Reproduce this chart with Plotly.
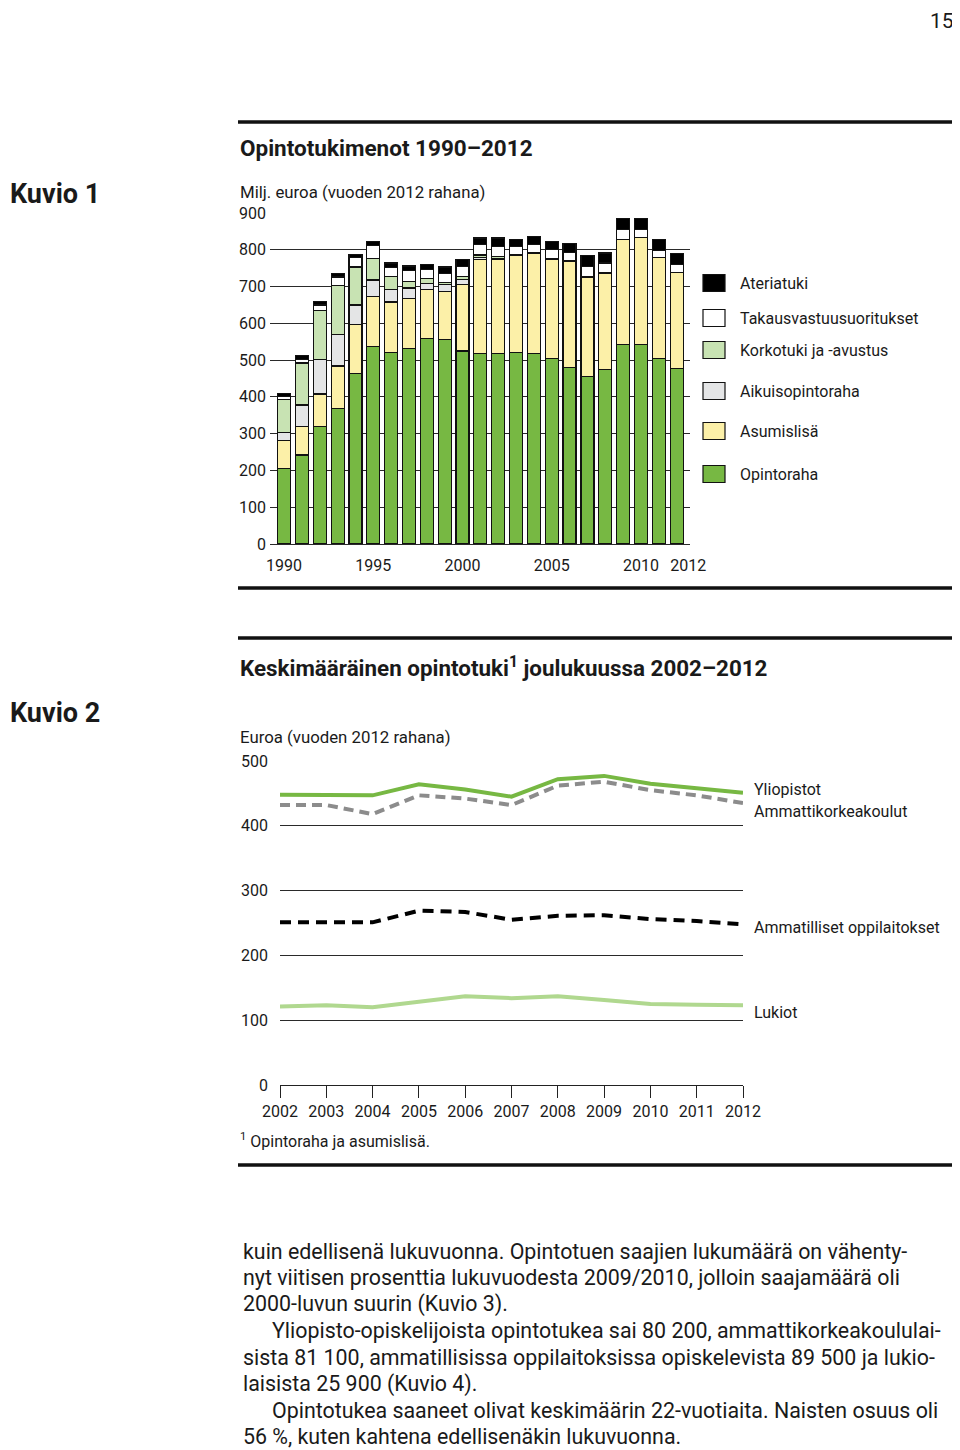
import plotly.graph_objects as go

# --- Kuvio 1: Opintotukimenot 1990-2012 (milj. euroa, vuoden 2012 rahana)
years = list(range(1990, 2013))
opintoraha = [206, 242, 319, 369, 463, 537, 521, 532, 558, 555, 525, 517,
              517, 520, 518, 505, 481, 455, 475, 542, 542, 504, 478]
asumislisa = [75, 77, 89, 115, 133, 136, 137, 136, 133, 132, 181, 256,
              256, 265, 272, 270, 287, 271, 262, 287, 292, 275, 261]
aikuisopintoraha = [23, 59, 93, 85, 54, 45, 33, 28, 18, 18, 13, 7,
                    4, 2, 1, 1, 1, 0, 0, 0, 0, 0, 0]
korkotuki = [90, 114, 133, 133, 103, 59, 36, 18, 14, 7, 8, 6,
             4, 1, 1, 1, 1, 0, 0, 0, 0, 0, 0]
takaus = [7, 10, 16, 24, 26, 35, 25, 29, 23, 24, 27, 28,
          29, 21, 22, 23, 23, 29, 27, 27, 22, 18, 21]
ateriatuki = [9, 10, 9, 9, 9, 11, 12, 13, 15, 17, 19, 18,
              22, 20, 22, 23, 23, 29, 27, 30, 28, 32, 29]

bar_names = ["Opintoraha", "Asumislisä", "Aikuisopintoraha",
             "Korkotuki ja -avustus", "Takausvastuusuoritukset", "Ateriatuki"]
bar_series = [opintoraha, asumislisa, aikuisopintoraha, korkotuki, takaus, ateriatuki]
bar_colors = ["#77b843", "#fcf0a8", "#e4e5e6", "#c8e3b3", "#ffffff", "#000000"]
bar_tickvals = [1990, 1995, 2000, 2005, 2010, 2012.65]
bar_ticktext = ["1990", "1995", "2000", "2005", "2010", "2012"]

# --- Kuvio 2: Keskimääräinen opintotuki joulukuussa 2002-2012 (euroa)
line_years = list(range(2002, 2013))
yliopistot = [448, 448, 447, 464, 456, 445, 472, 477, 465, 458, 451]
amk = [432, 432, 418, 447, 442, 432, 462, 468, 455, 447, 435]
ammatilliset = [251, 251, 251, 269, 267, 255, 261, 262, 256, 253, 248]
lukiot = [121, 123, 120, 129, 137, 134, 137, 131, 125, 124, 123]

# page is 960x1450, the figure sits 8px in from the top-left corner
OFF = 8
W, H = 960 - OFF, 1450 - OFF
FONT = "Roboto"
TXT = "#1a1a1a"


def px(x):
    return (x - OFF) / W


def py(y):
    return 1 - (y - OFF) / H


fig = go.Figure()

for name, vals, col in zip(bar_names, bar_series, bar_colors):
    fig.add_trace(go.Bar(x=years, y=vals, name=name, marker_color=col,
                         marker_line_color="#111111", marker_line_width=1.2,
                         showlegend=False, xaxis="x", yaxis="y"))

fig.add_trace(go.Scatter(x=line_years, y=lukiot, mode="lines",
                         line=dict(color="#b0d88f", width=4),
                         showlegend=False, xaxis="x2", yaxis="y2"))
fig.add_trace(go.Scatter(x=line_years, y=ammatilliset, mode="lines",
                         line=dict(color="#000000", width=4, dash="11px,7px"),
                         showlegend=False, xaxis="x2", yaxis="y2"))
fig.add_trace(go.Scatter(x=line_years, y=amk, mode="lines",
                         line=dict(color="#8c8c8c", width=4, dash="10px,6px"),
                         showlegend=False, xaxis="x2", yaxis="y2"))
fig.add_trace(go.Scatter(x=line_years, y=yliopistot, mode="lines",
                         line=dict(color="#77b843", width=4),
                         showlegend=False, xaxis="x2", yaxis="y2"))

tickfont = dict(family=FONT, size=16, color=TXT)

fig.update_layout(
    width=W, height=H, autosize=False,
    margin=dict(l=0, r=0, t=0, b=0, pad=0, autoexpand=False),
    showlegend=False,
    paper_bgcolor="white", plot_bgcolor="white",
    barmode="stack", bargap=0.27,
    xaxis=dict(domain=[px(270), px(690)], range=[1989.21, 2012.75],
               tickvals=bar_tickvals, ticktext=bar_ticktext, tickfont=tickfont,
               showgrid=False, zeroline=False, showline=False, ticks="",
               ticklabelstandoff=10, automargin=False),
    yaxis=dict(domain=[py(544), py(213)], range=[0, 900], dtick=100,
               tickfont=tickfont, showgrid=True, gridcolor="#2a2a2a",
               gridwidth=1.2, zeroline=True, zerolinecolor="#2a2a2a",
               zerolinewidth=1.2, showline=False, ticks="",
               ticklabelstandoff=3, automargin=False),
    xaxis2=dict(domain=[px(280), px(743)], range=[2002, 2012], dtick=1,
                anchor="y2", tickfont=tickfont, showgrid=False,
                zeroline=False, showline=True, linecolor="#222222",
                linewidth=1.3, ticks="outside", ticklen=12,
                tickcolor="#222222", tickwidth=1.3, automargin=False),
    yaxis2=dict(domain=[py(1085), py(761)], range=[0, 500], dtick=100,
                anchor="x2", tickfont=tickfont, showgrid=True,
                gridcolor="#2a2a2a", gridwidth=1, zeroline=False,
                showline=False, ticks="", ticklabelstandoff=11,
                automargin=False),
)

shapes = []
for yy in [122, 588, 638, 1165]:
    shapes.append(dict(type="line", xref="paper", yref="paper",
                       x0=px(238), x1=px(958), y0=py(yy), y1=py(yy),
                       line=dict(color="#111111", width=3.5)))

annotations = []


def text(x, y, s, size=16, bold=False, anchor="left"):
    if bold:
        s = "<b>" + s + "</b>"
    annotations.append(dict(x=px(x), y=py(y), xref="paper", yref="paper",
                            text=s, showarrow=False, xanchor=anchor,
                            yanchor="middle",
                            font=dict(family=FONT, size=size, color=TXT)))


# custom legend for Kuvio 1 (top item = top of the stack)
legend_rows = [283, 318, 350, 391, 431, 474]
for (name, col), yy in zip(list(zip(bar_names, bar_colors))[::-1], legend_rows):
    shapes.append(dict(type="rect", xref="paper", yref="paper",
                       x0=px(703), x1=px(725), y0=py(yy - 8.5), y1=py(yy + 8.5),
                       fillcolor=col, line=dict(color="#111111", width=1.2)))
    text(738, yy, name)

text(942, 21, "15", size=21, anchor="center")
text(238, 148, "Opintotukimenot 1990–2012", size=22.5, bold=True)
text(8, 194, "Kuvio 1", size=27, bold=True)
text(238, 192, "Milj. euroa (vuoden 2012 rahana)", size=16.8)

text(238, 666, "Keskimääräinen opintotuki<sup>1</sup> joulukuussa 2002–2012",
     size=22.4, bold=True)
text(8, 713, "Kuvio 2", size=27, bold=True)
text(238, 737, "Euroa (vuoden 2012 rahana)", size=16.8)
text(752, 789, "Yliopistot")
text(752, 811, "Ammattikorkeakoulut")
text(752, 927, "Ammatilliset oppilaitokset")
text(752, 1012, "Lukiot")
text(238, 1140, "<sup>1</sup> Opintoraha ja asumislisä.")

body = [
    (241, "kuin edellisenä lukuvuonna. Opintotuen saajien lukumäärä on vähenty-"),
    (241, "nyt viitisen prosenttia lukuvuodesta 2009/2010, jolloin saajamäärä oli"),
    (241, "2000-luvun suurin (Kuvio 3)."),
    (270, "Yliopisto-opiskelijoista opintotukea sai 80 200, ammattikorkeakoululai-"),
    (241, "sista 81 100, ammatillisissa oppilaitoksissa opiskelevista 89 500 ja lukio-"),
    (241, "laisista 25 900 (Kuvio 4)."),
    (270, "Opintotukea saaneet olivat keskimäärin 22-vuotiaita. Naisten osuus oli"),
    (241, "56 %, kuten kahtena edellisenäkin lukuvuonna."),
]
for i, (x0, line) in enumerate(body):
    text(x0, 1251 + i * 26.5, line, size=21.4)

fig.update_layout(shapes=shapes, annotations=annotations)

fig.write_html("out.html")
